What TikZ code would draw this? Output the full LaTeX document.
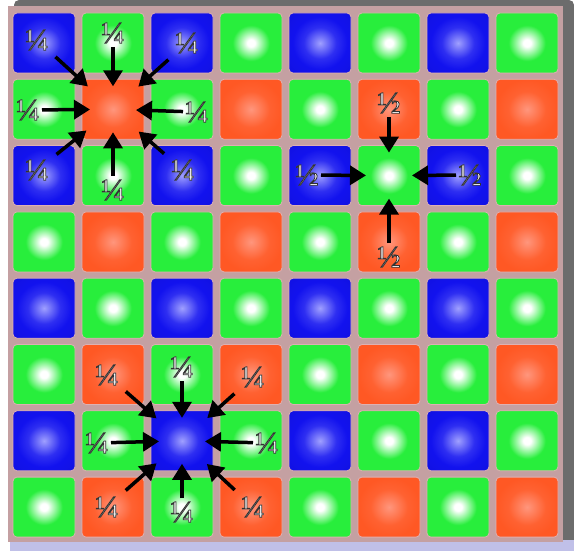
\documentclass[tikz,border=0pt]{standalone}
\usepackage{fontspec}
\setmainfont{Liberation Serif}
\usetikzlibrary{arrows.meta}

\definecolor{pixgreen}{RGB}{40,238,60}
\definecolor{pixblue}{RGB}{18,18,238}
\definecolor{pixbluelight}{RGB}{160,160,255}
\definecolor{pixred}{RGB}{255,88,36}
\definecolor{pixredlight}{RGB}{255,150,125}
\definecolor{boardpink}{RGB}{196,160,162}
\definecolor{tilerim}{RGB}{222,176,178}
\definecolor{framegrey}{RGB}{108,108,108}
\definecolor{baselav}{RGB}{192,192,232}

% white glyph with a dark outline
\newcommand{\rimtext}[1]{\special{pdf:literal direct 2 Tr 0.8 w 0.2 G}#1\special{pdf:literal direct 0 Tr}}

\pgfdeclareradialshading{greenglow}{\pgfpoint{0bp}{0bp}}{color(0bp)=(white); color(3bp)=(white); color(15bp)=(pixgreen); color(50bp)=(pixgreen)}
\pgfdeclareradialshading{blueglow}{\pgfpoint{0bp}{0bp}}{color(0bp)=(pixbluelight); color(13bp)=(pixblue!80!pixbluelight); color(22bp)=(pixblue); color(50bp)=(pixblue!90!black)}
\pgfdeclareradialshading{redglow}{\pgfpoint{0bp}{0bp}}{color(0bp)=(pixredlight); color(15bp)=(pixred!85!pixredlight); color(25bp)=(pixred); color(50bp)=(pixred)}

\tikzset{
	tile/.style={rectangle, rounded corners=4pt, minimum width=62pt, minimum height=60pt, draw=tilerim, line width=0.8pt, inner sep=0pt, shade},
	greentile/.style={tile, shading=greenglow},
	bluetile/.style={tile, shading=blueglow},
	redtile/.style={tile, shading=redglow},
	frac/.style={inner sep=0pt, text=white, font=\fontsize{31}{31}\selectfont},
	feed/.style={line width=3.5pt, -{Triangle[length=16pt,width=19pt]}, shorten <=14pt, shorten >=23pt},
	feeddiag/.style={feed, shorten <=25pt, shorten >=34pt}
}

\begin{document}
\begin{tikzpicture}[x=1pt,y=1pt,yscale=-1]
	\useasboundingbox (0,0) rectangle (574,551);
	\fill[white] (0,0) rectangle (574,551);
	
	% frame round the sensor
	\fill[framegrey, rounded corners=5pt] (14,0) rectangle (574,20);
	\fill[framegrey] (556,8) rectangle (574,540);
	\fill[baselav] (10,540) rectangle (574,551);
	\fill[boardpink] (8,6) rectangle (563,542);
	
	% colour filter mosaic
	\foreach \r in {0,...,7}{
		\foreach \c in {0,...,7}{
			\pgfmathtruncatemacro{\kind}{mod(\r,2)*2+mod(\c,2)}
			\ifcase\kind \def\sty{bluetile}\or \def\sty{greentile}\or \def\sty{greentile}\or \def\sty{redtile}\fi
			\node[\sty] (t-\c-\r) at ({44+69*\c},{43+66.3*\r}) {};
		}
	}
	
	% weights round the red pixel
	\node[frac] (r-nw) at (37,40) {\rimtext{¼}};
	\node[frac] (r-n) at (113,33) {\rimtext{¼}};
	\node[frac] (r-ne) at (187,43) {\rimtext{¼}};
	\node[frac] (r-w) at (28,110) {\rimtext{¼}};
	\node[frac] (r-e) at (197,112) {\rimtext{¼}};
	\node[frac] (r-sw) at (37,170) {\rimtext{¼}};
	\node[frac] (r-s) at (113,190) {\rimtext{¼}};
	\node[frac] (r-se) at (183,170) {\rimtext{¼}};
	
	% weights round the green pixel
	\node[frac] (g-n) at (389,103) {\rimtext{½}};
	\node[frac] (g-w) at (307,175) {\rimtext{½}};
	\node[frac] (g-e) at (470,175) {\rimtext{½}};
	\node[frac] (g-s) at (389,257) {\rimtext{½}};
	
	% weights round the blue pixel
	\node[frac] (b-nw) at (107,375) {\rimtext{¼}};
	\node[frac] (b-n) at (182,367) {\rimtext{¼}};
	\node[frac] (b-ne) at (253,377) {\rimtext{¼}};
	\node[frac] (b-w) at (97,443) {\rimtext{¼}};
	\node[frac] (b-e) at (267,443) {\rimtext{¼}};
	\node[frac] (b-sw) at (107,507) {\rimtext{¼}};
	\node[frac] (b-s) at (182,512) {\rimtext{¼}};
	\node[frac] (b-se) at (253,507) {\rimtext{¼}};
	
	% arrows into the interpolated pixels
	\foreach \d in {n,w,e,s}{
		\draw[feed] (r-\d.center) -- (t-1-1.center);
		\draw[feed] (g-\d.center) -- (t-5-2.center);
		\draw[feed] (b-\d.center) -- (t-2-6.center);
	}
	\foreach \d in {nw,ne,sw,se}{
		\draw[feeddiag] (r-\d.center) -- (t-1-1.center);
		\draw[feeddiag] (b-\d.center) -- (t-2-6.center);
	}
\end{tikzpicture}
\end{document}
